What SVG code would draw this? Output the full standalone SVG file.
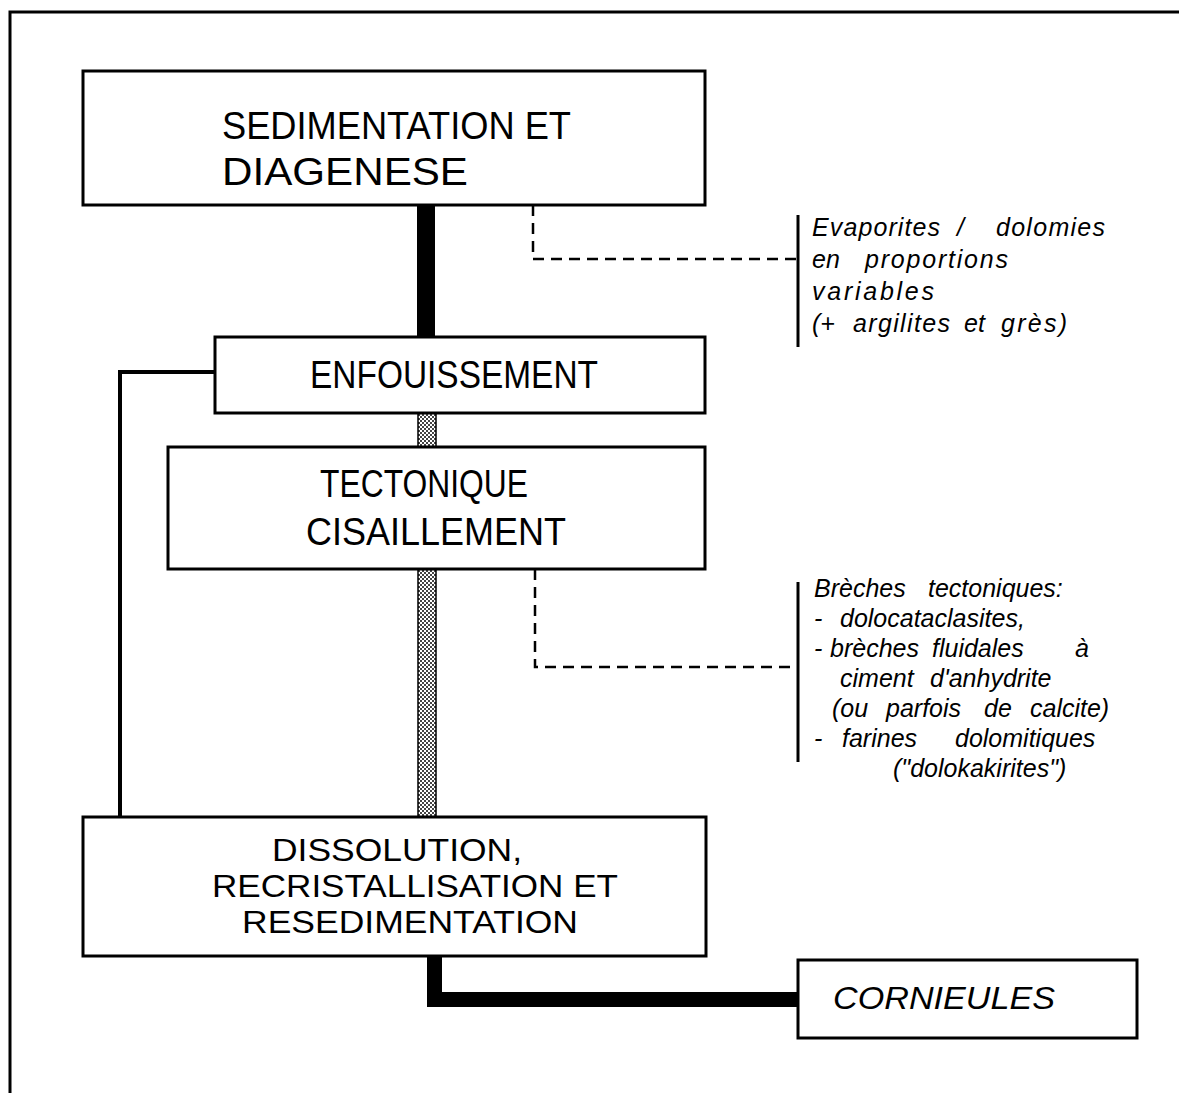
<svg xmlns="http://www.w3.org/2000/svg" width="1179" height="1093" viewBox="0 0 1179 1093">
<style>
.box{fill:#fff;stroke:#000;stroke-width:3}
.t{font-family:"Liberation Sans",Arial,sans-serif;font-size:39px;fill:#000}
.t3{font-size:32px}
.ti{font-size:31px;font-style:italic}
.n{font-family:"Liberation Sans",Arial,sans-serif;font-size:25px;font-style:italic;fill:#000}
.c{fill:none;stroke:#000}
</style>
<defs>
<pattern id="stip" width="4" height="4" patternUnits="userSpaceOnUse">
<rect width="4" height="4" fill="#fff"/>
<rect width="2" height="2" fill="#444"/>
<rect x="2" y="2" width="2" height="2" fill="#444"/>
</pattern>
</defs>
<rect width="1179" height="1093" fill="#fff"/>
<path class="c" d="M10,1093 V12 H1179" stroke-width="3"/>
<g id="connectors">
<rect x="417" y="205" width="18" height="132" fill="#000"/>
<rect x="418" y="413" width="18" height="34" fill="url(#stip)" stroke="#000" stroke-width="1.5"/>
<rect x="418" y="569" width="18" height="248" fill="url(#stip)" stroke="#000" stroke-width="1.5"/>
<path class="c" d="M215,372 H120 V817" stroke-width="4"/>
<path class="c" d="M533,205 V259 H797" stroke-width="2.5" stroke-dasharray="11,7"/>
<path class="c" d="M535,569 V667 H797" stroke-width="2.5" stroke-dasharray="11,7"/>
<path d="M427,956 V1007 H798 V992 H442 V956 Z" fill="#000"/>
<path class="c" d="M798,215 V347" stroke-width="3"/>
<path class="c" d="M798,582 V762" stroke-width="3"/>
</g>
<g id="n1">
<rect class="box" x="83" y="71" width="622" height="134"/>
<text class="t" x="222" y="139" textLength="349" lengthAdjust="spacingAndGlyphs">SEDIMENTATION  ET</text>
<text class="t" x="222" y="185" textLength="246" lengthAdjust="spacingAndGlyphs">DIAGENESE</text>
</g>
<g id="n2">
<rect class="box" x="215" y="337" width="490" height="76"/>
<text class="t" x="310" y="388" textLength="288" lengthAdjust="spacingAndGlyphs">ENFOUISSEMENT</text>
</g>
<g id="n3">
<rect class="box" x="168" y="447" width="537" height="122"/>
<text class="t" x="320" y="497" textLength="208" lengthAdjust="spacingAndGlyphs">TECTONIQUE</text>
<text class="t" x="306" y="545" textLength="260" lengthAdjust="spacingAndGlyphs">CISAILLEMENT</text>
</g>
<g id="n4">
<rect class="box" x="83" y="817" width="623" height="139"/>
<text class="t t3" x="272" y="861" textLength="250" lengthAdjust="spacingAndGlyphs">DISSOLUTION,</text>
<text class="t t3" x="212" y="897" textLength="406" lengthAdjust="spacingAndGlyphs">RECRISTALLISATION ET</text>
<text class="t t3" x="242" y="933" textLength="336" lengthAdjust="spacingAndGlyphs">RESEDIMENTATION</text>
</g>
<g id="n5">
<rect class="box" x="798" y="960" width="339" height="78"/>
<text class="t ti" x="833" y="1009" textLength="222" lengthAdjust="spacingAndGlyphs">CORNIEULES</text>
</g>
<g id="note1">
<text class="n" x="812" y="236" textLength="128" lengthAdjust="spacing">Evaporites</text>
<text class="n" x="957" y="236">/</text>
<text class="n" x="996" y="236" textLength="109" lengthAdjust="spacing">dolomies</text>
<text class="n" x="812" y="268">en</text>
<text class="n" x="865" y="268" textLength="143" lengthAdjust="spacing">proportions</text>
<text class="n" x="812" y="300" textLength="122" lengthAdjust="spacing">variables</text>
<text class="n" x="812" y="332">(+</text>
<text class="n" x="853" y="332" textLength="97" lengthAdjust="spacing">argilites</text>
<text class="n" x="964" y="332">et</text>
<text class="n" x="1001" y="332" textLength="66" lengthAdjust="spacing">grès)</text>
</g>
<g id="note2">
<text class="n" x="814" y="597">Brèches</text>
<text class="n" x="928" y="597">tectoniques:</text>
<text class="n" x="814" y="627">-</text>
<text class="n" x="840" y="627">dolocataclasites,</text>
<text class="n" x="814" y="657">-</text>
<text class="n" x="830" y="657">brèches</text>
<text class="n" x="932" y="657">fluidales</text>
<text class="n" x="1075" y="657">à</text>
<text class="n" x="840" y="687">ciment</text>
<text class="n" x="930" y="687">d'anhydrite</text>
<text class="n" x="832" y="717">(ou</text>
<text class="n" x="886" y="717">parfois</text>
<text class="n" x="984" y="717">de</text>
<text class="n" x="1030" y="717">calcite)</text>
<text class="n" x="814" y="747">-</text>
<text class="n" x="842" y="747">farines</text>
<text class="n" x="955" y="747">dolomitiques</text>
<text class="n" x="893" y="777">("dolokakirites")</text>
</g>
</svg>
